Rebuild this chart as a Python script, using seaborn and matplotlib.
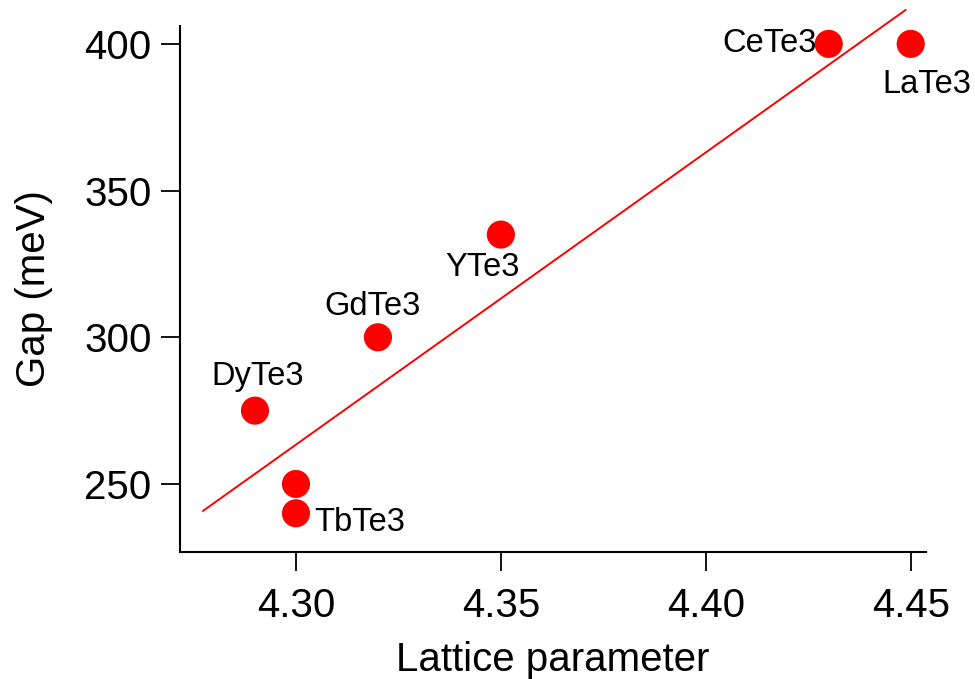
import matplotlib
matplotlib.use("Agg")
import matplotlib.pyplot as plt
import seaborn as sns
import pandas as pd

# data
compounds = ["DyTe3", "TbTe3", "TbTe3", "GdTe3", "YTe3", "CeTe3", "LaTe3"]
lattice = [4.29, 4.30, 4.30, 4.32, 4.35, 4.43, 4.45]
gap = [275, 250, 240, 300, 335, 400, 400]

# fitted line end points
fit_x = [4.2773, 4.4488]
fit_y = [240.8, 411.6]

sns.set_style("ticks")
plt.rcParams['font.family'] = ['Liberation Sans', 'DejaVu Sans']
plt.rcParams.update({
    "text.color": "black",
    "axes.labelcolor": "black",
    "xtick.color": "black",
    "ytick.color": "black",
    "axes.edgecolor": "black",
})

df = pd.DataFrame({"compound": compounds, "lattice": lattice, "gap": gap})
df_fit = pd.DataFrame({"x": fit_x, "y": fit_y})

fig = plt.figure(figsize=(9.75, 6.79), dpi=100)
ax = fig.add_axes([0.1846, 0.187, 0.765, 0.7747])

sns.lineplot(data=df_fit, x="x", y="y", color="#ff0000", linewidth=1.4,
             ax=ax, clip_on=False)
sns.scatterplot(data=df, x="lattice", y="gap", color="#ff0000", s=410,
                edgecolor="none", ax=ax, zorder=3, clip_on=False)

# annotations: index, text, (dx, dy) in pixels, alignment
ann = [
    (0, "DyTe3", 3, 34, "center"),
    (2, "TbTe3", 18, -9, "left"),
    (3, "GdTe3", -5, 31, "center"),
    (4, "YTe3", -18, -33, "center"),
    (5, "CeTe3", -12, 0, "right"),
    (6, "LaTe3", 16, -41, "center"),
]
for i, name, dx, dy, ha in ann:
    ax.annotate(name, (lattice[i], gap[i]), xytext=(dx, dy),
                textcoords="offset pixels", ha=ha, va="center", fontsize=23.5)

ax.set_xlim(4.2717, 4.4537)
ax.set_ylim(226.8, 406.1)
ax.set_xticks([4.30, 4.35, 4.40, 4.45])
ax.set_xticklabels(["4.30", "4.35", "4.40", "4.45"])
ax.set_yticks([250, 300, 350, 400])

ax.set_xlabel("Lattice parameter", fontsize=29, labelpad=11)
ax.set_ylabel("Gap (meV)", fontsize=29, labelpad=22)
ax.tick_params(labelsize=29, length=13.5, width=1.3, color="black", pad=7)
ax.tick_params(axis="x", pad=12)
for s in ["left", "bottom"]:
    ax.spines[s].set_linewidth(1.5)
    ax.spines[s].set_color("black")
sns.despine(ax=ax)

fig.savefig("out.png", dpi=100)
